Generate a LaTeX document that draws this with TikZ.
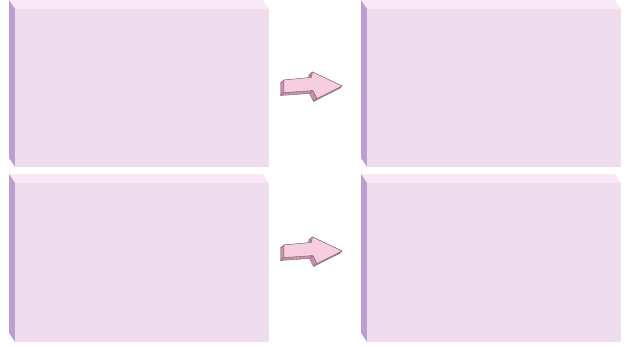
\documentclass[tikz,border=0pt]{standalone}
\definecolor{faceC}{RGB}{239,221,238}
\definecolor{topC}{RGB}{248,233,244}
\definecolor{sideC}{RGB}{186,160,209}
\definecolor{arrFront}{RGB}{247,205,224}
\definecolor{arrSide}{RGB}{204,142,172}
\definecolor{arrLine}{RGB}{110,100,105}
\newcommand\mybox[5]{%
  \fill[topC] (#2-6,#3-9) -- (#4-6,#3-9) -- (#4,#3) -- (#2,#3) -- cycle;
  \fill[sideC] (#2-6,#3-9) -- (#2,#3) -- (#2,#5) -- (#2-6,#5-9) -- cycle;
  \node[facebox, minimum width={#4pt-#2pt}, minimum height={#5pt-#3pt}] (#1) at (#2,#3) {};
}
\newcommand\myarrow[2]{%
  \begin{scope}[shift={(0,#2)}]
    \coordinate (#1a) at (284,80);
    \coordinate (#1b) at (311.5,77.5);
    \coordinate (#1c) at (312.5,72);
    \coordinate (#1d) at (342,86);
    \coordinate (#1e) at (317,98.5);
    \coordinate (#1f) at (313,90.5);
    \coordinate (#1g) at (284,92.5);
    \foreach \p/\q in {a/b,b/c,c/d,d/e,e/f,f/g,g/a}{
      \filldraw[arrside] (#1\p) -- (#1\q) -- ([shift={(-3.5,3)}]#1\q) -- ([shift={(-3.5,3)}]#1\p) -- cycle;
    }
    \filldraw[arrfront] (#1a) -- (#1b) -- (#1c) -- (#1d) -- (#1e) -- (#1f) -- (#1g) -- cycle;
  \end{scope}
}
\begin{document}
\begin{tikzpicture}[x=1pt,y=-1pt,
  facebox/.style={fill=faceC, draw=none, inner sep=0pt, outer sep=0pt, anchor=north west},
  arrside/.style={fill=arrSide, draw=arrLine, line width=0.35pt, line join=round},
  arrfront/.style={fill=arrFront, draw=arrLine, line width=0.35pt, line join=round}]
  \useasboundingbox[fill=white] (0,0) rectangle (638,347);
  \mybox{box1}{15}{9}{268.5}{167}
  \mybox{box2}{15}{183}{268.5}{342}
  \mybox{box3}{367}{9}{621}{167}
  \mybox{box4}{367}{183}{621}{342}
  \myarrow{up}{0}
  \myarrow{lo}{165}
\end{tikzpicture}
\end{document}
